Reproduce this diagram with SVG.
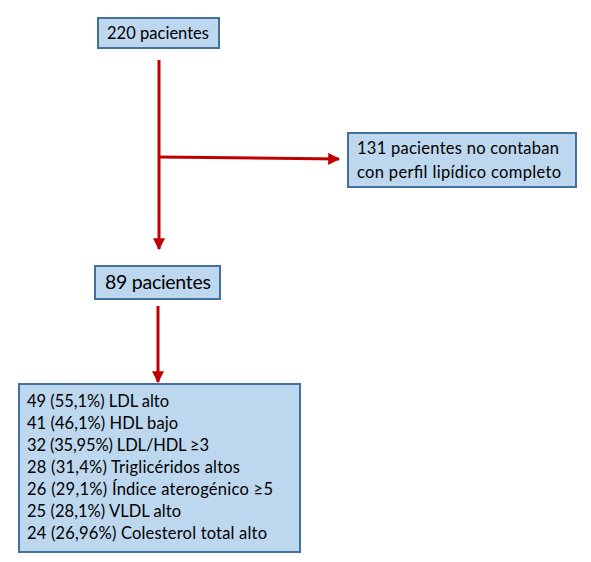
<svg xmlns="http://www.w3.org/2000/svg" width="591" height="562" viewBox="0 0 591 562">
<defs>
<style>
.box{fill:#BDD7EE;stroke:#41719C;stroke-width:2}
.t{font-family:Lato,"Open Sans","Liberation Sans",sans-serif;font-size:16.5px;fill:#000}
.c{stroke:#C00000;stroke-width:3;fill:none}
</style>
<marker id="ah" viewBox="0 0 10 10" refX="9" refY="5" markerWidth="4" markerHeight="4" orient="auto" markerUnits="strokeWidth">
<path d="M0,0 L10,5 L0,10 z" fill="#C00000"/>
</marker>
</defs>
<rect width="591" height="562" fill="#fff"/>
<g id="connectors">
<line class="c" x1="159" y1="60" x2="159" y2="249" marker-end="url(#ah)"/>
<line class="c" x1="159" y1="157" x2="339" y2="159" marker-end="url(#ah)"/>
<line class="c" x1="158" y1="306" x2="158" y2="382" marker-end="url(#ah)"/>
</g>
<g id="n220">
<rect class="box" x="98" y="18" width="121" height="30"/>
<text class="t" x="107" y="39" textLength="102">220 pacientes</text>
</g>
<g id="n131">
<rect class="box" x="348" y="133" width="228" height="54"/>
<text class="t" x="357" y="154" textLength="202">131 pacientes no contaban</text>
<text class="t" x="357" y="178" textLength="204">con perfil lipídico completo</text>
</g>
<g id="n89">
<rect class="box" x="95" y="266" width="125" height="33"/>
<text class="t" x="105" y="289" style="font-size:19.5px" textLength="106">89 pacientes</text>
</g>
<g id="results">
<rect class="box" x="19" y="384" width="281" height="168"/>
<text class="t" x="27" y="407" textLength="142">49 (55,1%) LDL alto</text>
<text class="t" x="27" y="429" textLength="151">41 (46,1%) HDL bajo</text>
<text class="t" x="27" y="451" textLength="182">32 (35,95%) LDL/HDL ≥3</text>
<text class="t" x="27" y="473" textLength="213">28 (31,4%) Triglicéridos altos</text>
<text class="t" x="27" y="495" textLength="246">26 (29,1%) Índice aterogénico ≥5</text>
<text class="t" x="27" y="517" textLength="154">25 (28,1%) VLDL alto</text>
<text class="t" x="27" y="539" textLength="240">24 (26,96%) Colesterol total alto</text>
</g>
</svg>
